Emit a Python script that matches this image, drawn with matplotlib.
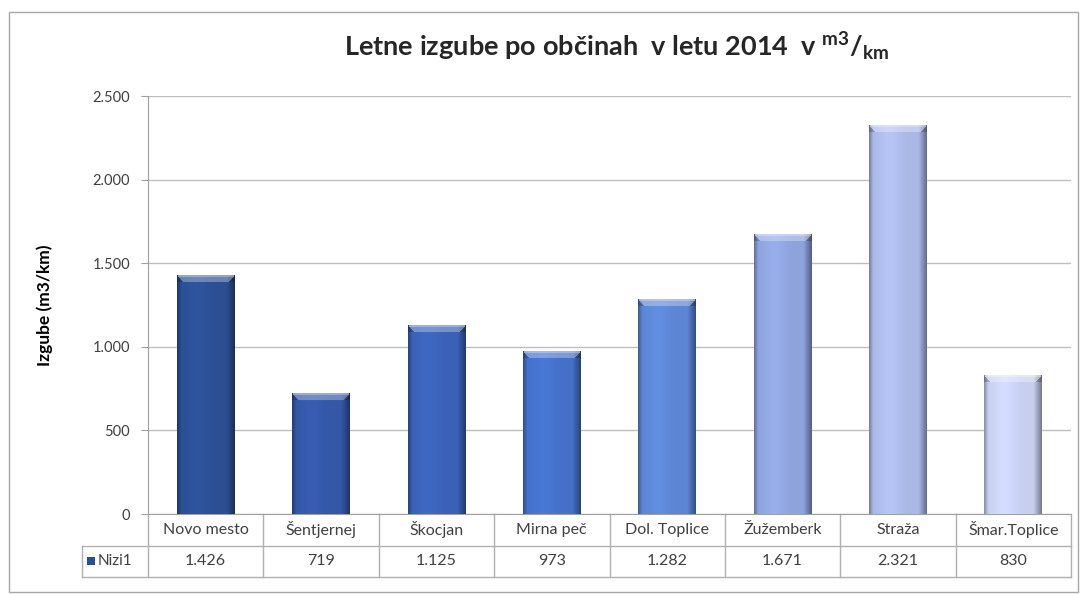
import numpy as np
import matplotlib
matplotlib.use("Agg")
import matplotlib.pyplot as plt
from matplotlib.colors import to_rgb
from matplotlib.patches import Rectangle

plt.rcParams['font.family'] = ['Lato', 'DejaVu Sans']
plt.rcParams['mathtext.fontset'] = 'custom'
plt.rcParams['mathtext.rm'] = 'Lato'

# data
categories = ['Novo mesto', 'Šentjernej', 'Škocjan', 'Mirna peč', 'Dol. Toplice',
              'Žužemberk', 'Straža', 'Šmar.Toplice']
values = [1426, 719, 1125, 973, 1282, 1671, 2321, 830]
series_name = 'Nizi1'
yticks = [0, 500, 1000, 1500, 2000, 2500]
ytick_labels = ['0', '500', '1.000', '1.500', '2.000', '2.500']
value_labels = ['1.426', '719', '1.125', '973', '1.282', '1.671', '2.321', '830']

bar_colors = ['#2C4F94', '#3457A6', '#3A61B6', '#4470C8', '#5C85D3',
              '#8EA3DC', '#AAB8E6', '#C7CFEF']

W, H = 1082, 595
fig = plt.figure(figsize=(W / 100, H / 100), dpi=100)

# chart frame
fig.patches.append(Rectangle((9 / W, 1 - 592 / H), 1069 / W, 580 / H,
                             transform=fig.transFigure, fill=False,
                             edgecolor='#A6A6A6', linewidth=1.0))

ax_l, ax_r, ax_t, ax_b = 148, 1071, 96, 514
ax = fig.add_axes([ax_l / W, 1 - ax_b / H, (ax_r - ax_l) / W, (ax_b - ax_t) / H])

n = len(categories)
ax.set_xlim(0, n)
ax.set_ylim(0, 2500)
ax.set_yticks(yticks)
ax.set_yticklabels(ytick_labels, fontsize=10.5, color='#404040')
ax.tick_params(axis='y', length=5, color='#A0A0A0', pad=8)
ax.set_xticks([])
for s in ['top', 'right']:
    ax.spines[s].set_visible(False)
ax.spines['left'].set_color('#A0A0A0')
ax.spines['bottom'].set_color('#A0A0A0')
ax.grid(axis='y', color='#BEBEBE', linewidth=1.0)
ax.set_axisbelow(True)
ax.set_ylabel('Izgube (m3/km)', fontsize=12.5, fontweight='bold', labelpad=28)

# bars with a bevelled look
bw = 0.5
px_per_unit = (ax_b - ax_t) / 2500.0
nx = 60
for i, (v, c) in enumerate(zip(values, bar_colors)):
    base = np.array(to_rgb(c))
    ny = max(int(round(v * px_per_unit)), 10)
    xs = np.linspace(0, 1, nx)
    shade = np.ones(nx) * 1.0
    shade = shade - 0.4 * np.clip((xs - 0.86) / 0.14, 0, 1)
    shade = shade - 0.3 * np.clip((0.07 - xs) / 0.07, 0, 1)
    shade = shade + 0.07 * np.exp(-((xs - 0.35) / 0.2) ** 2)
    img = np.clip(base[None, None, :] * shade[None, :, None] * np.ones((ny, 1, 1)), 0, 1)
    bevel = 7
    for r in range(bevel):
        lo, hi = int(r * 0.9) + 1, nx - int(r * 0.9) - 1
        light = 0.5 if r < 2 else 0.3
        img[r, lo:hi] = img[r, lo:hi] + (1 - img[r, lo:hi]) * light
        img[r, :lo] = img[r, :lo] * 0.8
        img[r, hi:] = img[r, hi:] * 0.8
    x0 = i + 0.5 - bw / 2
    ax.imshow(img, extent=(x0, x0 + bw, 0, v), aspect='auto', zorder=3,
              interpolation='bilinear')
ax.set_xlim(0, n)
ax.set_ylim(0, 2500)

# data table below the axes
row_h = 31.5 / (ax_b - ax_t)
left_ext = (82 - ax_l) / (ax_r - ax_l)
tc = '#B0B0B0'
tr = ax.transAxes
ax.plot([left_ext, 1], [-row_h, -row_h], color=tc, lw=1, transform=tr, clip_on=False)
ax.plot([left_ext, 1], [-2 * row_h, -2 * row_h], color=tc, lw=1, transform=tr, clip_on=False)
ax.plot([left_ext, left_ext], [-row_h, -2 * row_h], color=tc, lw=1, transform=tr, clip_on=False)
for k in range(n + 1):
    ax.plot([k / n, k / n], [0, -2 * row_h], color=tc, lw=1, transform=tr, clip_on=False)
for k, (cat, lab) in enumerate(zip(categories, value_labels)):
    ax.text((k + 0.5) / n, -0.5 * row_h, cat, transform=tr, ha='center', va='center',
            fontsize=11.5, color='#404040')
    ax.text((k + 0.5) / n, -1.5 * row_h, lab, transform=tr, ha='center', va='center',
            fontsize=11.5, color='#404040')
key_x = (87 - ax_l) / (ax_r - ax_l)
ax.add_patch(Rectangle((key_x, -1.5 * row_h - 0.01), 0.0085, 0.02, transform=tr,
                       facecolor=bar_colors[0], edgecolor='none', clip_on=False))
ax.text(key_x + 0.012, -1.5 * row_h, series_name, transform=tr, ha='left', va='center',
        fontsize=11, color='#404040')

# title
fig.text(617 / W, 1 - 47 / H,
         r'Letne izgube po občinah  v letu 2014  v $\mathregular{{}^{m3}/{}_{km}}$',
         ha='center', va='center', fontsize=19.5, fontweight='bold', color='#262626')

fig.savefig('out.png', dpi=100)
